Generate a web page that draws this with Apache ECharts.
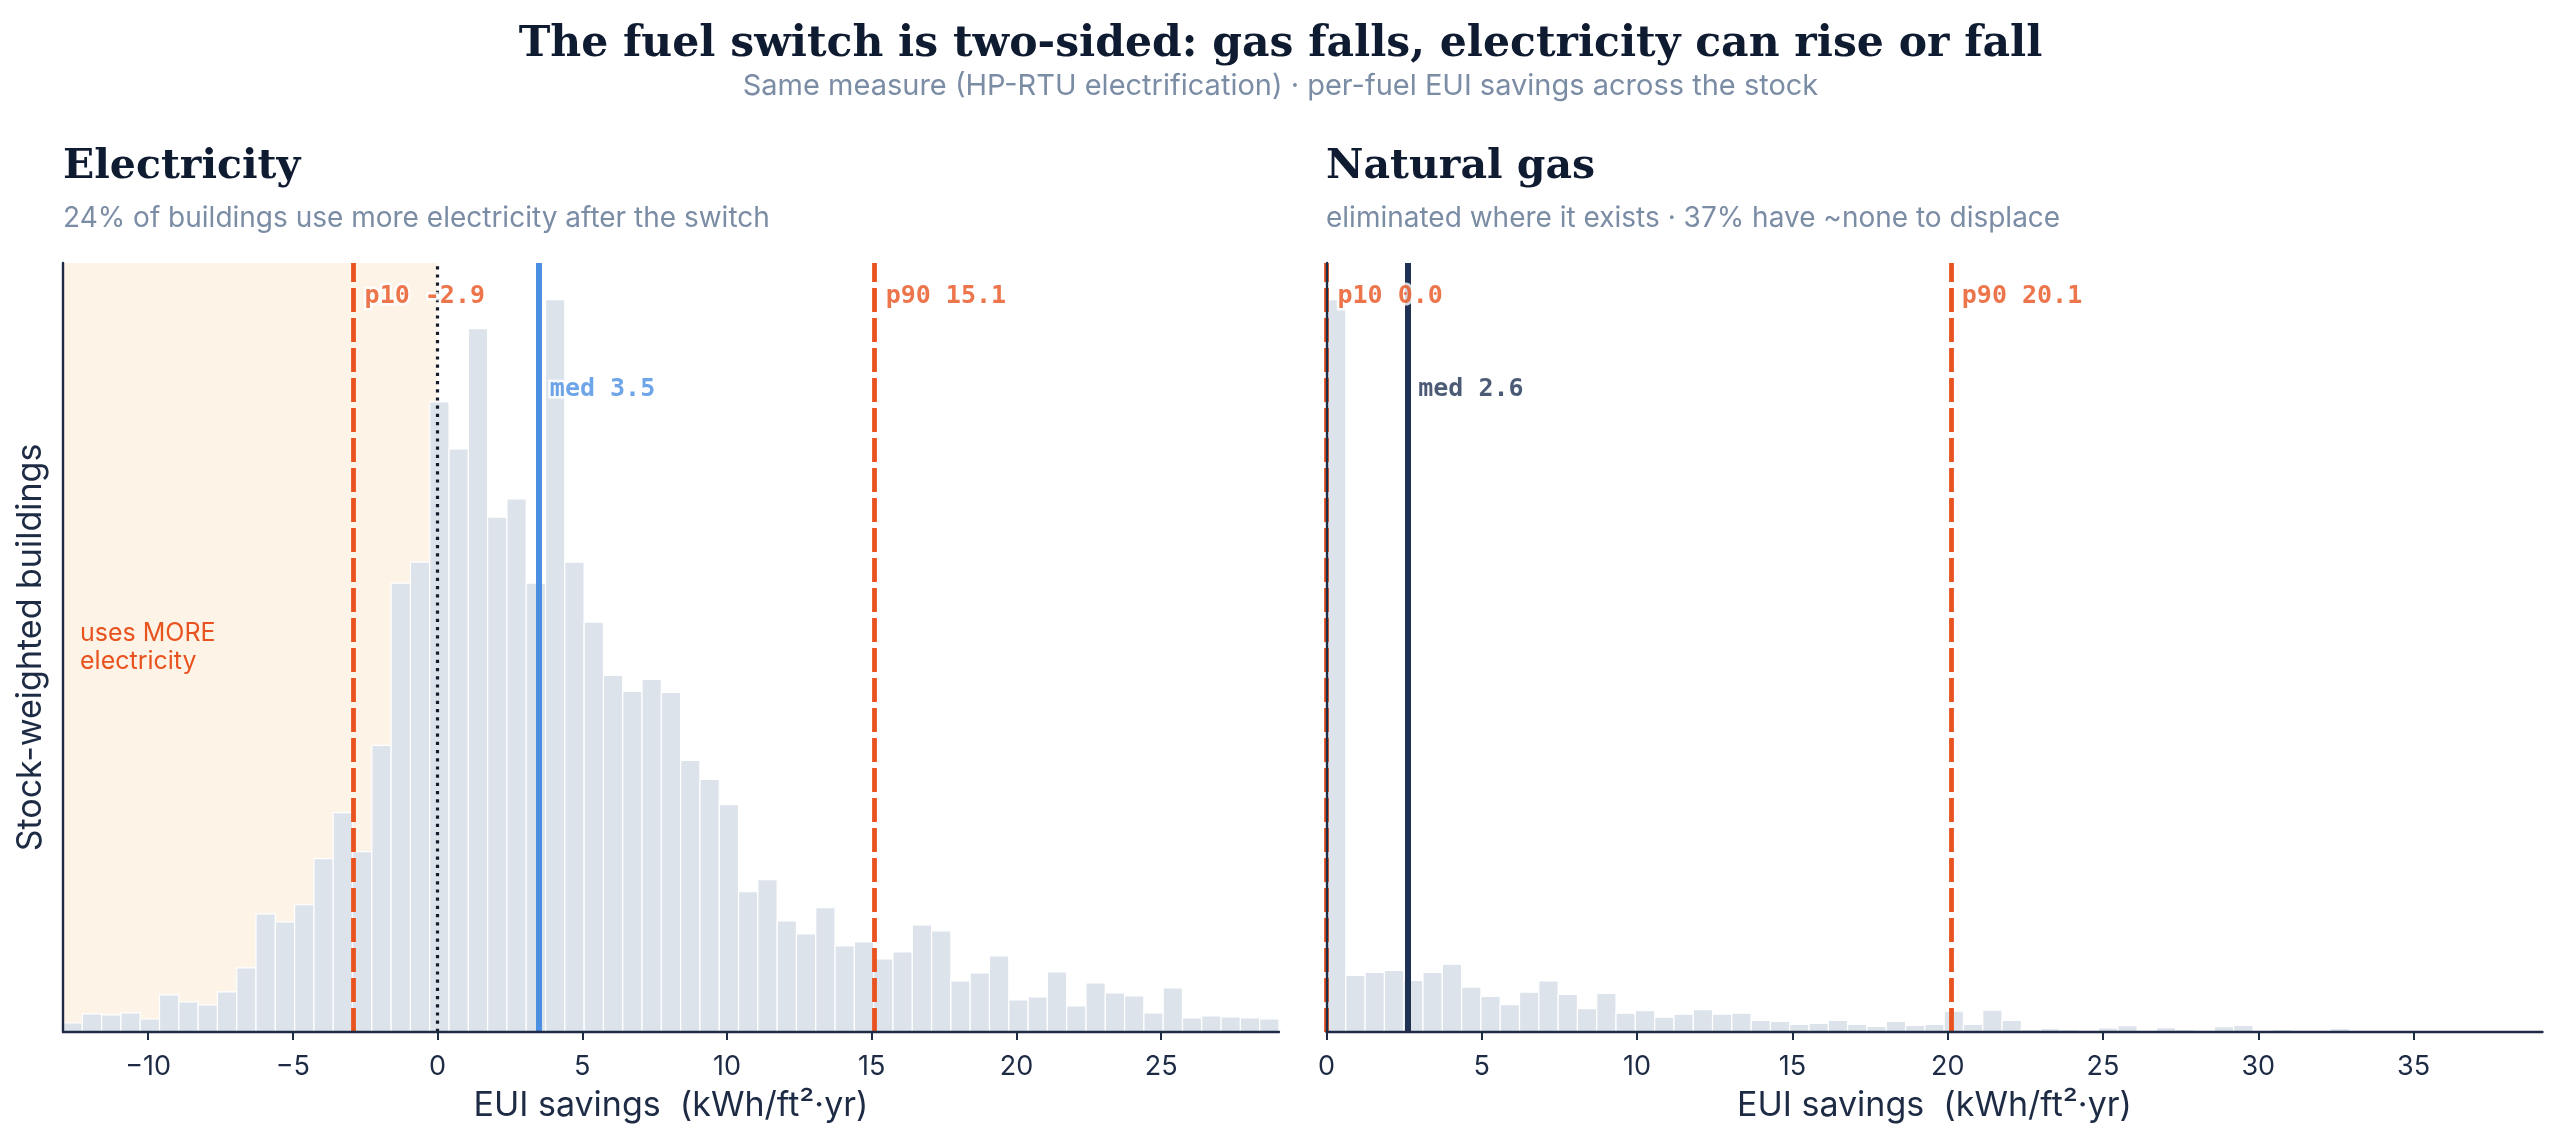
<!DOCTYPE html>
<html>
<head>
<meta charset="utf-8">
<script src="https://cdn.jsdelivr.net/npm/echarts@6/dist/echarts.min.js"></script>
<style>
html, body { margin: 0; background: #fff; }
#chart { width: 2561px; height: 1148px; }
</style>
</head>
<body>
<div id="chart"></div>
<script>
// electricity: per-building EUI savings, 63 equal bins over the plotted range
var elecRange = [-12.94, 29.07];
var elecCounts = [9, 18, 17, 19, 13, 37, 30, 27, 40, 64,
    118, 110, 127, 173, 219, 180, 286, 448, 469, 629,
    582, 702, 514, 532, 448, 731, 469, 409, 356, 340,
    352, 339, 271, 252, 227, 140, 152, 111, 98, 124,
    86, 90, 73, 80, 107, 101, 51, 59, 76, 32,
    35, 60, 26, 49, 39, 36, 19, 44, 14, 16,
    15, 14, 13];
var elecTicks = [-10, -5, 0, 5, 10, 15, 20, 25];
var elecP10 = -2.9, elecMed = 3.5, elecP90 = 15.1;

// natural gas
var gasRange = [0, 39.15];
var gasCounts = [731, 56.5, 59.6, 61.6, 51.4, 59.6, 67.7, 44.8, 35.6, 27.4,
    39.7, 50.9, 37.6, 23.3, 38.6, 18.7, 21.3, 14.7, 17.7, 22.3,
    17.7, 18.7, 11.6, 10.6, 7.5, 8.5, 11.6, 7.5, 5.5, 10.6,
    6.5, 7.5, 20.8, 7.5, 21.8, 11.6, 2.4, 3.4, 2.4, 0.5,
    4, 6.3, 0, 4.3, 2.3, 0, 5.3, 6.7, 0, 2.3,
    0, 0, 3.3, 0, 0, 0, 0, 0, 0, 0,
    0, 0, 0];
var gasTicks = [0, 5, 10, 15, 20, 25, 30, 35];
var gasP10 = 0.0, gasMed = 2.6, gasP90 = 20.1;

var NAVY = '#1e2b45';
var ORANGE = '#e8531f';
var BLUE = '#4a8fe2';
var DARK = '#1f3253';
var GREY = '#7b8ca5';
var INK = '#0f1b30';
var SANS = 'Inter, "Noto Sans", sans-serif';
var SERIF = '"DejaVu Serif", serif';
var MONO = '"DejaVu Sans Mono", monospace';

function binData(range, counts) {
    var w = (range[1] - range[0]) / counts.length;
    return counts.map(function (c, i) {
        return [range[0] + i * w, range[0] + (i + 1) * w, c];
    });
}

function renderBar(params, api) {
    if (!api.value(2)) return null;
    var top = api.coord([api.value(0), api.value(2)]);
    var base = api.coord([api.value(1), 0]);
    return {
        type: 'rect',
        shape: { x: top[0], y: top[1], width: base[0] - top[0], height: base[1] - top[1] },
        style: { fill: '#dde3eb', stroke: '#ffffff', lineWidth: 1.2 }
    };
}

function minus(v) { return String(v).replace('-', '\u2212'); }

function xAxisFor(idx, range, ticks) {
    return {
        type: 'value', gridIndex: idx, min: range[0], max: range[1], z: 10,
        name: 'EUI savings  (kWh/ft\u00b2\u00b7yr)', nameLocation: 'middle', nameGap: 57,
        nameTextStyle: { fontFamily: SANS, fontSize: 34, color: NAVY },
        axisLine: { show: true, onZero: false, lineStyle: { color: NAVY, width: 2.4 } },
        axisTick: { show: true, length: 8, customValues: ticks, lineStyle: { color: NAVY, width: 2 } },
        axisLabel: { customValues: ticks, margin: 21, fontFamily: SANS, fontSize: 27, color: NAVY, formatter: minus },
        splitLine: { show: false }
    };
}

function yAxisFor(idx, counts, name) {
    return {
        type: 'value', gridIndex: idx, min: 0, max: Math.max.apply(null, counts) * 1.05, z: 10,
        name: name, nameLocation: 'middle', nameGap: 15,
        nameTextStyle: { fontFamily: SANS, fontSize: 34, color: NAVY },
        axisLine: { show: true, onZero: false, lineStyle: { color: NAVY, width: 2.4 } },
        axisTick: { show: false }, axisLabel: { show: false }, splitLine: { show: false }
    };
}

function vline(x, color, width, type) {
    return { xAxis: x, lineStyle: { color: color, width: width, type: type, opacity: 1 } };
}

function tag(x, frac, yMax, text, color) {
    return { name: text, value: [x, yMax * frac], label: { color: color } };
}

var elecMax = Math.max.apply(null, elecCounts) * 1.05;
var gasMax = Math.max.apply(null, gasCounts) * 1.05;

var tagLabel = {
    show: true, position: 'right', distance: 11, formatter: '{b}',
    fontFamily: MONO, fontWeight: 'bold', fontSize: 25,
    textBorderColor: '#ffffff', textBorderWidth: 5
};

var option = {
    backgroundColor: '#ffffff',
    animation: false,
    title: [
        { text: 'The fuel switch is two-sided: gas falls, electricity can rise or fall', left: 'center', top: 23, padding: 0,
          textStyle: { fontFamily: SERIF, fontWeight: 'bold', fontSize: 42.5, color: INK } },
        { text: 'Same measure (HP-RTU electrification) \u00b7 per-fuel EUI savings across the stock', left: 'center', top: 72, padding: 0,
          textStyle: { fontFamily: SANS, fontWeight: 'normal', fontSize: 29, color: GREY } },
        { text: 'Electricity', left: 63, top: 147, padding: 0,
          textStyle: { fontFamily: SERIF, fontWeight: 'bold', fontSize: 41, color: INK } },
        { text: '24% of buildings use more electricity after the switch', left: 63, top: 205, padding: 0,
          textStyle: { fontFamily: SANS, fontWeight: 'normal', fontSize: 28, color: GREY } },
        { text: 'Natural gas', left: 1326, top: 147, padding: 0,
          textStyle: { fontFamily: SERIF, fontWeight: 'bold', fontSize: 41, color: INK } },
        { text: 'eliminated where it exists \u00b7 37% have ~none to displace', left: 1326, top: 205, padding: 0,
          textStyle: { fontFamily: SANS, fontWeight: 'normal', fontSize: 28, color: GREY } }
    ],
    grid: [
        { left: 63, top: 263, width: 1216, height: 769 },
        { left: 1326.5, top: 263, width: 1216, height: 769 }
    ],
    xAxis: [xAxisFor(0, elecRange, elecTicks), xAxisFor(1, gasRange, gasTicks)],
    yAxis: [yAxisFor(0, elecCounts, 'Stock-weighted buildings'), yAxisFor(1, gasCounts, '')],
    series: [
        {   // shaded "uses more" zone
            type: 'line', xAxisIndex: 0, yAxisIndex: 0, data: [], z: 1, silent: true,
            markArea: {
                silent: true,
                itemStyle: { color: '#fdf3e6' },
                label: { show: true, position: 'insideLeft', distance: 17, formatter: 'uses MORE\nelectricity',
                         fontFamily: SANS, fontSize: 25, lineHeight: 28, color: ORANGE },
                data: [[{ xAxis: elecRange[0] }, { xAxis: 0 }]]
            }
        },
        {
            type: 'custom', xAxisIndex: 0, yAxisIndex: 0, z: 2, silent: true,
            renderItem: renderBar, encode: { x: [0, 1], y: 2 },
            data: binData(elecRange, elecCounts)
        },
        {
            type: 'custom', xAxisIndex: 1, yAxisIndex: 1, z: 2, silent: true,
            renderItem: renderBar, encode: { x: [0, 1], y: 2 },
            data: binData(gasRange, gasCounts)
        },
        {
            type: 'line', xAxisIndex: 0, yAxisIndex: 0, data: [], z: 3, silent: true,
            markLine: {
                silent: true, symbol: ['none', 'none'], label: { show: false },
                data: [
                    vline(0, '#141c2b', 3.2, [3.2, 5]),
                    vline(elecP10, ORANGE, 4.8, [24, 6]),
                    vline(elecP90, ORANGE, 4.8, [24, 6]),
                    vline(elecMed, BLUE, 6, 'solid')
                ]
            }
        },
        {
            type: 'line', xAxisIndex: 1, yAxisIndex: 1, data: [], z: 3, silent: true,
            markLine: {
                silent: true, symbol: ['none', 'none'], label: { show: false },
                data: [
                    vline(gasP10, ORANGE, 4.8, [24, 6]),
                    vline(gasP90, ORANGE, 4.8, [24, 6]),
                    vline(gasMed, DARK, 6, 'solid')
                ]
            }
        },
        {
            type: 'scatter', xAxisIndex: 0, yAxisIndex: 0, z: 12, symbolSize: 0, silent: true,
            label: tagLabel,
            data: [
                tag(elecP10, 0.956, elecMax, 'p10 ' + elecP10.toFixed(1), ORANGE),
                tag(elecP90, 0.956, elecMax, 'p90 ' + elecP90.toFixed(1), ORANGE),
                tag(elecMed, 0.836, elecMax, 'med ' + elecMed.toFixed(1), BLUE)
            ]
        },
        {
            type: 'scatter', xAxisIndex: 1, yAxisIndex: 1, z: 12, symbolSize: 0, silent: true,
            label: tagLabel,
            data: [
                tag(gasP10, 0.956, gasMax, 'p10 ' + gasP10.toFixed(1), ORANGE),
                tag(gasP90, 0.956, gasMax, 'p90 ' + gasP90.toFixed(1), ORANGE),
                tag(gasMed, 0.836, gasMax, 'med ' + gasMed.toFixed(1), DARK)
            ]
        }
    ]
};

var myChart = echarts.init(document.getElementById('chart'));
myChart.setOption(option);
</script>
</body>
</html>
